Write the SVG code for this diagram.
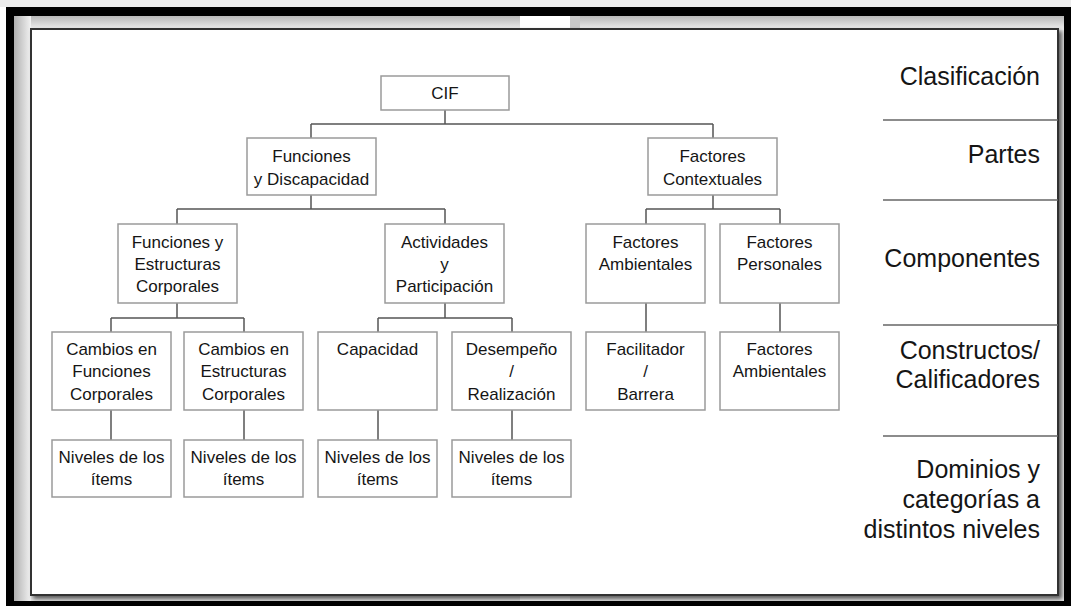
<svg xmlns="http://www.w3.org/2000/svg" width="1071" height="606" viewBox="0 0 1071 606">
<style>
.box{fill:#fff;stroke:#9a9a9a;stroke-width:1.5}
.t{font-family:"Liberation Sans",Arial,sans-serif;font-size:17px;fill:#151515;text-anchor:middle}
.lbl{font-family:"Liberation Sans",Arial,sans-serif;font-size:25px;fill:#151515;text-anchor:end}
.con{fill:none;stroke:#555;stroke-width:1.5}
.div{stroke:#666;stroke-width:1.5}
</style>
<defs>
<linearGradient id="gTop" x1="0" y1="0" x2="0" y2="1"><stop offset="0" stop-color="#b8b8b8"/><stop offset="1" stop-color="#f2f2f2"/></linearGradient>
<linearGradient id="gLeft" x1="0" y1="0" x2="1" y2="0"><stop offset="0" stop-color="#b0b0b0"/><stop offset="1" stop-color="#f2f2f2"/></linearGradient>
<filter id="sh" x="-5%" y="-5%" width="110%" height="110%"><feGaussianBlur in="SourceAlpha" stdDeviation="2"/><feOffset dx="3" dy="3"/><feComponentTransfer><feFuncA type="linear" slope="0.6"/></feComponentTransfer><feMerge><feMergeNode/><feMergeNode in="SourceGraphic"/></feMerge></filter>
</defs>
<!-- outer background and border -->
<rect x="0" y="0" width="1071" height="606" fill="#fff"/>
<rect x="0" y="0" width="1071" height="7" fill="#ececec"/>
<rect x="6" y="7" width="1065" height="599" fill="#000"/>
<rect x="14" y="16" width="1050" height="585" fill="#e4e4e4"/>
<rect x="14" y="16" width="1050" height="14" fill="url(#gTop)"/>
<rect x="14" y="16" width="17" height="585" fill="url(#gLeft)"/>
<rect x="520" y="16" width="50" height="14" fill="#fff"/>
<rect x="570" y="16" width="10" height="14" fill="#c8c8c8"/>
<rect x="520" y="595" width="50" height="6" fill="#fff"/>
<rect x="31" y="29" width="1027" height="566" fill="#fff" stroke="#333" stroke-width="2" filter="url(#sh)"/>
<!-- level dividers and labels -->
<g id="levels">
<line class="div" x1="883" y1="120" x2="1058" y2="120"/>
<line class="div" x1="883" y1="200" x2="1058" y2="200"/>
<line class="div" x1="883" y1="325" x2="1058" y2="325"/>
<line class="div" x1="883" y1="436" x2="1058" y2="436"/>
<text class="lbl" x="1040" y="85">Clasificación</text>
<text class="lbl" x="1040" y="163">Partes</text>
<text class="lbl" x="1040" y="267">Componentes</text>
<text class="lbl" x="1040" y="359">Constructos/</text>
<text class="lbl" x="1040" y="388">Calificadores</text>
<text class="lbl" x="1040" y="478">Dominios y</text>
<text class="lbl" x="1040" y="508">categorías a</text>
<text class="lbl" x="1040" y="538">distintos niveles</text>
</g>
<g id="connectors">
<path class="con" d="M445 110V124M311 124H713M311 124V138M713 124V138"/>
<path class="con" d="M311 195V209M177 209H445M177 209V224M445 209V224"/>
<path class="con" d="M713 195V209M646 209H780M646 209V224M780 209V224"/>
<path class="con" d="M177 303V318M111 318H244M111 318V332M244 318V332"/>
<path class="con" d="M445 303V318M378 318H512M378 318V332M512 318V332"/>
<path class="con" d="M646 303V332M780 303V332"/>
<path class="con" d="M111 410V440M244 410V440M378 410V440M512 410V440"/>
</g>
<g id="cif"><rect class="box" x="381" y="76" width="128" height="34"/><text class="t" x="445" y="99">CIF</text></g>
<g id="fyd"><rect class="box" x="247" y="138" width="129" height="57"/><text class="t" x="311.5" y="162">Funciones</text><text class="t" x="311.5" y="185">y Discapacidad</text></g>
<g id="fc"><rect class="box" x="648" y="138" width="129" height="57"/><text class="t" x="712.5" y="162">Factores</text><text class="t" x="712.5" y="185">Contextuales</text></g>
<g id="fec"><rect class="box" x="118" y="224" width="119" height="79"/><text class="t" x="177.5" y="248">Funciones y</text><text class="t" x="177.5" y="270">Estructuras</text><text class="t" x="177.5" y="292">Corporales</text></g>
<g id="ayp"><rect class="box" x="385" y="224" width="119" height="79"/><text class="t" x="444.5" y="248">Actividades</text><text class="t" x="444.5" y="270">y</text><text class="t" x="444.5" y="292">Participación</text></g>
<g id="famb"><rect class="box" x="586" y="224" width="119" height="79"/><text class="t" x="645.5" y="248">Factores</text><text class="t" x="645.5" y="270">Ambientales</text></g>
<g id="fpers"><rect class="box" x="720" y="224" width="119" height="79"/><text class="t" x="779.5" y="248">Factores</text><text class="t" x="779.5" y="270">Personales</text></g>
<g id="cfc"><rect class="box" x="52" y="332" width="119" height="78"/><text class="t" x="111.5" y="355">Cambios en</text><text class="t" x="111.5" y="377">Funciones</text><text class="t" x="111.5" y="400">Corporales</text></g>
<g id="cec"><rect class="box" x="184" y="332" width="119" height="78"/><text class="t" x="243.5" y="355">Cambios en</text><text class="t" x="243.5" y="377">Estructuras</text><text class="t" x="243.5" y="400">Corporales</text></g>
<g id="cap"><rect class="box" x="318" y="332" width="119" height="78"/><text class="t" x="377.5" y="355">Capacidad</text></g>
<g id="des"><rect class="box" x="452" y="332" width="119" height="78"/><text class="t" x="511.5" y="355">Desempeño</text><text class="t" x="511.5" y="377">/</text><text class="t" x="511.5" y="400">Realización</text></g>
<g id="fac"><rect class="box" x="586" y="332" width="119" height="78"/><text class="t" x="645.5" y="355">Facilitador</text><text class="t" x="645.5" y="377">/</text><text class="t" x="645.5" y="400">Barrera</text></g>
<g id="famb2"><rect class="box" x="720" y="332" width="119" height="78"/><text class="t" x="779.5" y="355">Factores</text><text class="t" x="779.5" y="377">Ambientales</text></g>
<g id="n1"><rect class="box" x="52" y="440" width="119" height="57"/><text class="t" x="111.5" y="463">Niveles de los</text><text class="t" x="111.5" y="485">ítems</text></g>
<g id="n2"><rect class="box" x="184" y="440" width="119" height="57"/><text class="t" x="243.5" y="463">Niveles de los</text><text class="t" x="243.5" y="485">ítems</text></g>
<g id="n3"><rect class="box" x="318" y="440" width="119" height="57"/><text class="t" x="377.5" y="463">Niveles de los</text><text class="t" x="377.5" y="485">ítems</text></g>
<g id="n4"><rect class="box" x="452" y="440" width="119" height="57"/><text class="t" x="511.5" y="463">Niveles de los</text><text class="t" x="511.5" y="485">ítems</text></g>
</svg>
